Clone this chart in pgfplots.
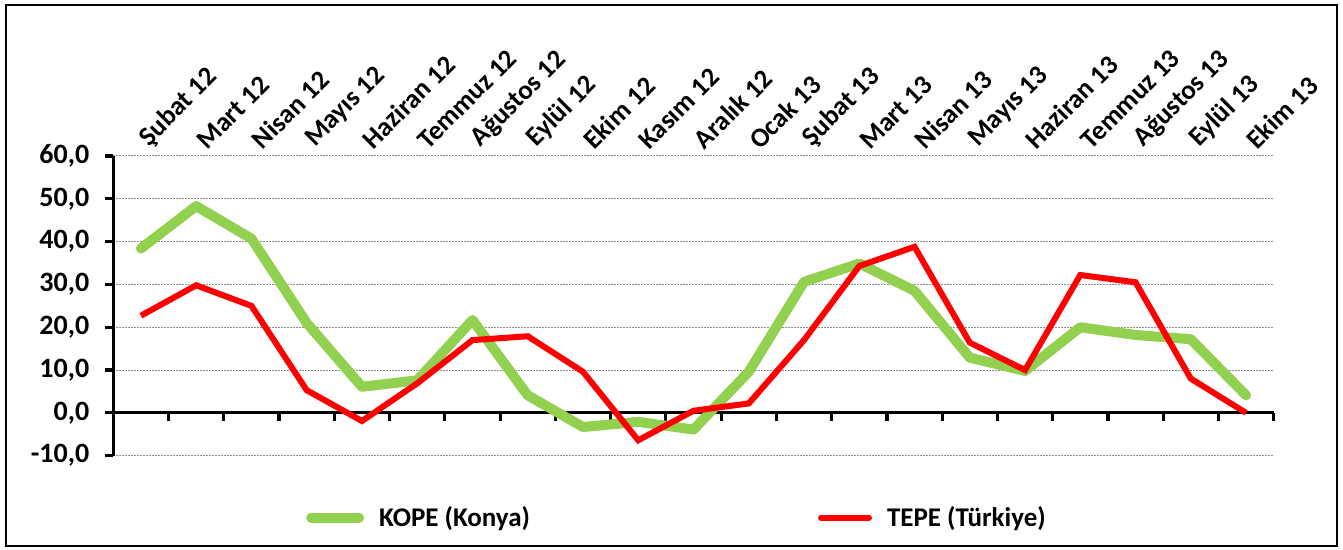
\documentclass[border=0pt]{standalone}
\usepackage{pgfplots}
\pgfplotsset{compat=1.18}
\usepackage{fontspec}
\setmainfont{Carlito}
\definecolor{kgreen}{HTML}{92D050}
\definecolor{tred}{HTML}{FF0000}
\definecolor{gridgray}{HTML}{8C8C8C}
\begin{document}
\begin{tikzpicture}
\pgfplotsset{
  common/.style={
    scale only axis,
    at={(56.65pt,47.15pt)}, anchor=south west,
    width=580.2pt, height=149.85pt,
    xmin=-0.5, xmax=20.5, ymin=-10, ymax=60,
    font=\fontsize{14}{16}\selectfont\bfseries,
  }
}
\begin{axis}[common,
  axis x line*=middle, axis y line*=left,
  axis line style={line width=1.6pt, black, -},
  xtick={-0.5,0.5,...,20.5}, xticklabels={},
  x tick style={line width=1.6pt, black},
  xtick align=outside,
  ytick={-10,0,...,60},
  y tick style={line width=1.6pt, black},
  ytick align=outside,
  major tick length=4pt,
  ymajorgrids,
  grid style={gridgray, line width=0.5pt, dash pattern=on 0.6pt off 0.9pt},
  yticklabel style={xshift=-4.5pt, /pgf/number format/.cd, fixed, fixed zerofill, precision=1, use comma, assume math mode=true},
  clip=false,
  legend columns=2,
  legend style={draw=none, fill=none, at={(0.4866,-0.207)}, anchor=center,
    font=\fontsize{13.5}{16}\selectfont\bfseries,
    /tikz/every even column/.append style={column sep=142pt}},
  legend image code/.code={\draw[#1, line cap=round] (0pt,0pt) -- (24pt,0pt);},
]
\addplot[kgreen, line width=5pt, line join=round, line cap=round] coordinates {
(0,38.4) (1,48.3) (2,40.7) (3,21.0) (4,6.1) (5,7.6) (6,21.7) (7,4.1) (8,-3.3) (9,-2.1) (10,-3.9)
(11,9.6) (12,30.6) (13,34.9) (14,28.5) (15,12.9) (16,9.8) (17,20.0) (18,18.2) (19,17.2) (20,4.1)};
\addlegendentry{\hspace{5.5pt}KOPE (Konya)}
\addplot[tred, line width=3pt, line join=miter] coordinates {
(0,22.7) (1,29.8) (2,25.0) (3,5.3) (4,-1.9) (5,6.9) (6,17.0) (7,17.9) (8,9.6) (9,-6.4) (10,0.5)
(11,2.2) (12,17.0) (13,34.3) (14,38.8) (15,16.4) (16,10.0) (17,32.2) (18,30.5) (19,8.0) (20,0.0)};
\addlegendentry{\hspace{5.5pt}TEPE (Türkiye)}
\end{axis}
\begin{axis}[common,
  hide y axis,
  axis x line*=top,
  axis line style={draw=none},
  major tick length=0pt,
  xtick={0,...,20},
  xticklabels={Şubat 12, Mart 12, Nisan 12, Mayıs 12, Haziran 12, Temmuz 12, Ağustos 12, Eylül 12, Ekim 12, Kasım 12, Aralık 12, Ocak 13, Şubat 13, Mart 13, Nisan 13, Mayıs 13, Haziran 13, Temmuz 13, Ağustos 13, Eylül 13, Ekim 13},
  xticklabel style={font=\fontsize{13.5}{15}\selectfont\bfseries, rotate=45, anchor=south west, inner sep=0pt, xshift=5.8pt, yshift=-2.3pt},
]
\addplot[draw=none] coordinates {(0,0)};
\end{axis}
\draw[line width=1.2pt] (3pt,2pt) rectangle (668.5pt,272.5pt);
\pgfresetboundingbox
\path (0,0) rectangle (671.5pt,275pt);
\end{tikzpicture}
\end{document}
